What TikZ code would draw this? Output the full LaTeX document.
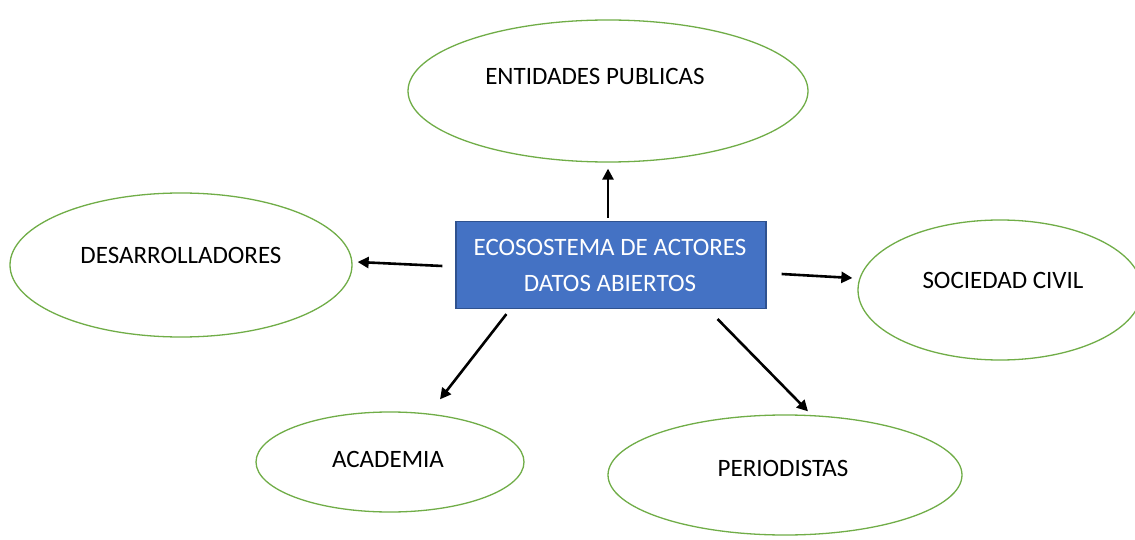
\documentclass[tikz,border=0pt]{standalone}
\usepackage{fontspec}
\setmainfont{Carlito}
\usetikzlibrary{shapes.geometric,arrows.meta}
\definecolor{boxblue}{HTML}{4472C4}
\definecolor{boxedge}{HTML}{2F528F}
\definecolor{ellgreen}{HTML}{70AD47}
\tikzset{
  actor/.style={ellipse,draw=ellgreen,line width=1.3pt,fill=white,inner sep=0pt},
  lbl/.style={font=\fontsize{25}{28}\selectfont,text=black,inner sep=0pt},
  centerbox/.style={rectangle,draw=boxedge,line width=1.2pt,fill=boxblue,inner sep=0pt,minimum width=310pt,minimum height=87pt},
  arr/.style={-{Triangle[length=11pt,width=11pt]},line width=2.6pt,black}
}
\begin{document}
\begin{tikzpicture}[x=1pt,y=1pt]
\useasboundingbox (0,0) rectangle (1135,539);
\fill[white] (0,0) rectangle (1135,539);
% actors
\node[actor,minimum width=400pt,minimum height=142pt] (ent) at (608,448) {};
\node[actor,minimum width=342pt,minimum height=144pt] (des) at (181,274) {};
\node[actor,minimum width=284pt,minimum height=140pt] (soc) at (1000,249) {};
\node[actor,minimum width=268pt,minimum height=100pt] (aca) at (390,77) {};
\node[actor,minimum width=354pt,minimum height=120pt] (per) at (785,64) {};
\node[lbl] (entt) at (595,463) {ENTIDADES PUBLICAS};
\node[lbl] (dest) at (181,284) {DESARROLLADORES};
\node[lbl] (soct) at (1003,259) {SOCIEDAD CIVIL};
\node[lbl] (acat) at (388,80) {ACADEMIA};
\node[lbl] (pert) at (783,71) {PERIODISTAS};
% center
\node[centerbox] (box) at (611,274) {};
\node[lbl,text=white] (boxt1) at (610,292) {ECOSOSTEMA DE ACTORES};
\node[lbl,text=white] (boxt2) at (610,256) {DATOS ABIERTOS};
% arrows
\draw[arr] ([shift={(-3pt,3pt)}]box.north) -- ([yshift=-6pt]ent.south);
\draw[arr] ([shift={(-13pt,-1pt)}]box.west) -- ([shift={(5pt,3pt)}]des.east);
\draw[arr] ([shift={(15pt,-9pt)}]box.east) -- ([shift={(-5pt,12pt)}]soc.west);
\draw[arr] ([shift={(51pt,-5pt)}]box.south west) -- ([shift={(50pt,12pt)}]aca.north);
\draw[arr] ([shift={(-49pt,-10pt)}]box.south east) -- ([shift={(23pt,3pt)}]per.north);
\end{tikzpicture}
\end{document}
